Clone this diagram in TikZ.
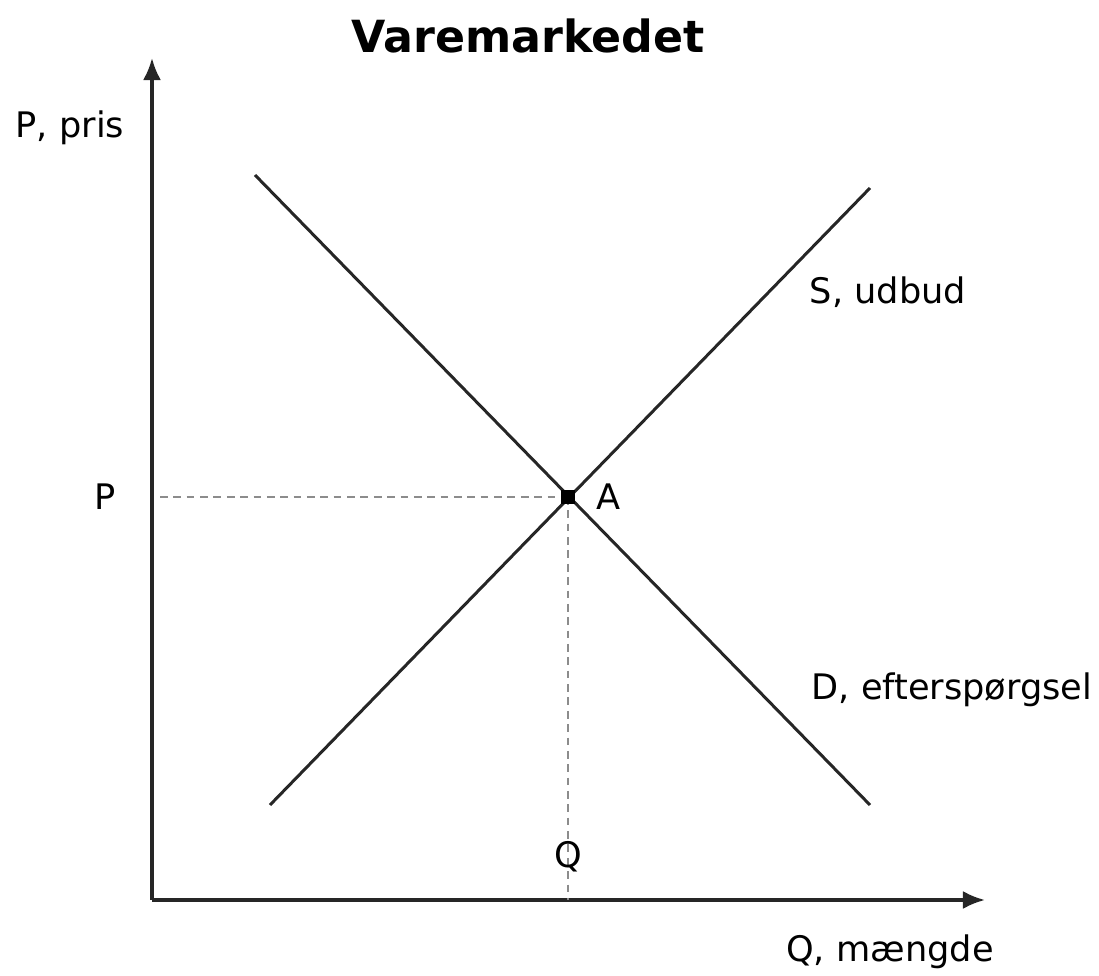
\documentclass[tikz,border=0pt]{standalone}
\usepackage{fontspec}
\setmainfont{DejaVu Sans}
\usetikzlibrary{positioning,arrows.meta}

\begin{document}
\begin{tikzpicture}[
    x=0.01cm, y=0.01cm,
    font=\fontsize{10}{12}\selectfont,
    axis/.style={line width=0.9pt,black!85,-{Latex[length=2.2mm,width=1.8mm]}},
    curve/.style={line width=0.85pt,black!85},
    guide/.style={line width=0.8pt,black!45,dash pattern=on 2.2pt off 1.6pt},
    lbl/.style={inner sep=0pt}
]
\useasboundingbox (0,0) rectangle (1099,-976);

% akser
\coordinate (O)    at (152,-900);
\coordinate (ytop) at (152,-58);
\coordinate (xend) at (985,-900);
\draw[axis] (O) -- (ytop);
\draw[axis] (O) -- (xend);

% kurver
\coordinate (d1) at (255,-175);
\coordinate (d2) at (870,-805);
\coordinate (s1) at (270,-805);
\coordinate (s2) at (870,-188);
\draw[curve] (d1) -- (d2);
\draw[curve] (s1) -- (s2);

% ligevaegt
\coordinate (pstart) at (160,-497);
\coordinate (qfoot)  at (568,-900);
\draw[guide] (pstart) -- (568,-497);
\draw[guide] (568,-497) -- (qfoot);
\node[fill=black,rectangle,inner sep=0pt,minimum size=0.14cm] (A) at (568,-497) {};

% tekster
\node[font=\fontsize{12.6}{15}\selectfont\bfseries] (title) at (528,-36) {Varemarkedet};
\node[lbl] (ylab)  at (70,-128)  {P, pris};
\node[lbl] (plab)  at (105,-497) {P};
\node[lbl,right=0.2cm of A] (alab) {A};
\node[lbl] (qlab)  at (568,-857) {Q};
\node[lbl] (xlab)  at (890,-952) {Q, mængde};
\node[lbl] (slab)  at (888,-292) {S, udbud};
\node[lbl] (dlab)  at (952,-690) {D, efterspørgsel};
\end{tikzpicture}
\end{document}
